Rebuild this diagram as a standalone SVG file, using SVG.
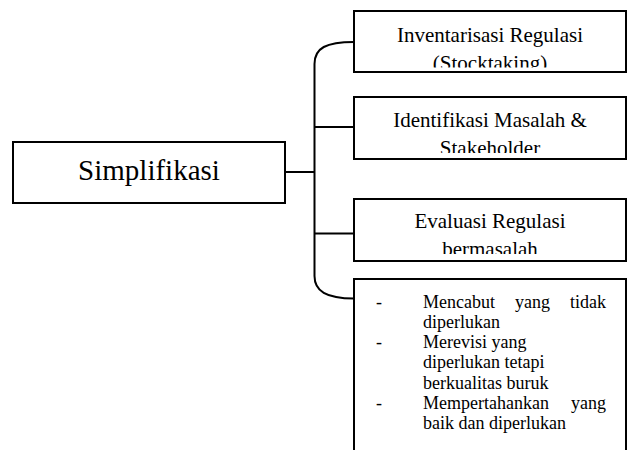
<svg xmlns="http://www.w3.org/2000/svg" width="627" height="450" viewBox="0 0 627 450">
<style>
.box{fill:#fff;stroke:#000;stroke-width:2}
.t{font-family:"Liberation Serif","Times New Roman",serif;fill:#000}
.m{font-size:21px;text-anchor:middle}
.l{font-size:18px}
.c{fill:none;stroke:#000;stroke-width:2}
</style>
<defs>
<clipPath id="c1"><rect x="354" y="11" width="272" height="56.5"/></clipPath>
<clipPath id="c2"><rect x="354" y="97" width="272" height="56"/></clipPath>
<clipPath id="c3"><rect x="354" y="199" width="272" height="55"/></clipPath>
</defs>
<g id="connectors">
<path class="c" d="M354,42 C326,42 314.5,48 314.5,64 L314.5,276 C314.5,291 326,298.5 354,298.5"/>
<path class="c" d="M285,172 H314.5"/>
<path class="c" d="M314.5,127 H354"/>
<path class="c" d="M314.5,233.5 H354"/>
</g>
<g id="simplifikasi">
<rect class="box" x="13" y="142" width="272" height="61"/>
<text class="t" x="149" y="179.5" font-size="29" text-anchor="middle">Simplifikasi</text>
</g>
<g id="inventarisasi">
<rect class="box" x="354" y="11" width="272" height="61"/>
<g clip-path="url(#c1)">
<text class="t m" x="490" y="41.7">Inventarisasi Regulasi</text>
<text class="t m" x="490" y="69.5">(Stocktaking)</text>
</g>
</g>
<g id="identifikasi">
<rect class="box" x="354" y="97" width="272" height="62"/>
<g clip-path="url(#c2)">
<text class="t m" x="490" y="126.7">Identifikasi Masalah &amp;</text>
<text class="t m" x="490" y="154.5">Stakeholder</text>
</g>
</g>
<g id="evaluasi">
<rect class="box" x="354" y="199" width="272" height="62"/>
<g clip-path="url(#c3)">
<text class="t m" x="490" y="228.3">Evaluasi Regulasi</text>
<text class="t m" x="490" y="256">bermasalah</text>
</g>
</g>
<g id="tindakan">
<rect class="box" x="354" y="279" width="272" height="200"/>
<text class="t l" x="376" y="307.5">-</text>
<text class="t l" x="423" y="307.5">Mencabut</text>
<text class="t l" x="515" y="307.5">yang</text>
<text class="t l" x="606" y="307.5" text-anchor="end">tidak</text>
<text class="t l" x="423" y="327.8">diperlukan</text>
<text class="t l" x="376" y="348.1">-</text>
<text class="t l" x="423" y="348.1">Merevisi yang</text>
<text class="t l" x="423" y="368.4">diperlukan tetapi</text>
<text class="t l" x="423" y="388.7">berkualitas buruk</text>
<text class="t l" x="376" y="409">-</text>
<text class="t l" x="423" y="409">Mempertahankan</text>
<text class="t l" x="606" y="409" text-anchor="end">yang</text>
<text class="t l" x="423" y="429.3">baik dan diperlukan</text>
</g>
</svg>
